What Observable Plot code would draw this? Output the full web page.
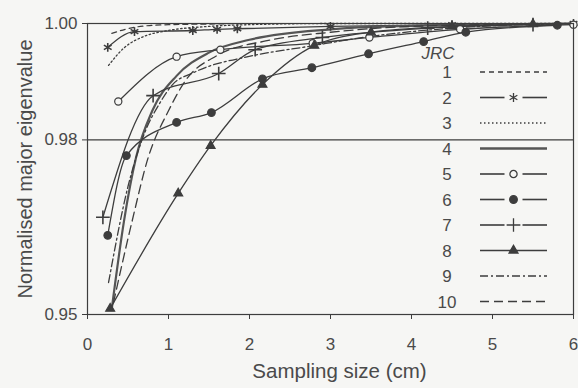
<!DOCTYPE html>
<html><head><meta charset="utf-8">
<script src="https://cdn.jsdelivr.net/npm/d3@7"></script>
<script src="https://cdn.jsdelivr.net/npm/@observablehq/plot@0.6"></script>
<style>
body{margin:0;background:#f6f6f4;}
#chart{width:578px;height:388px;}
</style></head><body><div id="chart"></div>
<script>
// ---- data ----
const jrcLabels = ["1","2","3","4","5","6","7","8","9","10"];
const xTicks = [0, 1, 2, 3, 4, 5, 6];
const yTicks = [0.95, 0.98, 1.00];
const xTitle = "Sampling size (cm)";
const yTitle = "Normalised major eigenvalue";
const legendTitle = "JRC";

const jrc1x = [0.30, 0.60, 1.00, 1.50, 2.00, 3.00, 4.00, 5.00, 6.00];
const jrc1y = [0.9983, 0.9994, 0.9998, 0.9999, 1.0, 1.0, 1.0, 1.0, 1.0];
const jrc2x = [0.25, 0.58, 1.30, 1.60, 1.85, 3.00, 4.50, 6.00];
const jrc2y = [0.9959, 0.9986, 0.9988, 0.9990, 0.9991, 0.9995, 0.9998, 1.0];
const jrc3x = [0.26, 0.45, 0.70, 1.00, 1.50, 2.00, 3.00, 4.00, 6.00];
const jrc3y = [0.9928, 0.9958, 0.9978, 0.9988, 0.9995, 0.9998, 1.0, 1.0, 1.0];
const jrc4x = [0.30, 0.45, 0.60, 0.80, 1.10, 1.50, 2.00, 3.00, 4.00, 6.00];
const jrc4y = [0.951, 0.966, 0.977, 0.985, 0.991, 0.9950, 0.9972, 0.9990, 0.9996, 1.0];
const jrc5x = [0.38, 1.10, 1.64, 2.78, 3.48, 4.60, 6.00];
const jrc5y = [0.9866, 0.9943, 0.9955, 0.9966, 0.9976, 0.9990, 0.9998];
const jrc6x = [0.25, 0.48, 1.10, 1.53, 2.16, 2.77, 3.47, 4.15, 4.67, 5.80];
const jrc6y = [0.9636, 0.9773, 0.9830, 0.9847, 0.9905, 0.9924, 0.9948, 0.9969, 0.9985, 0.9997];
const jrc7x = [0.19, 0.81, 1.62, 2.07, 2.90, 4.20, 5.50];
const jrc7y = [0.9667, 0.9876, 0.9914, 0.9955, 0.9976, 0.9992, 0.9998];
const jrc8x = [0.28, 1.12, 1.52, 2.16, 2.80, 3.50, 4.50, 5.50];
const jrc8y = [0.951, 0.9708, 0.9790, 0.9895, 0.9962, 0.9985, 0.9995, 0.9999];
const jrc9x = [0.26, 0.50, 0.70, 0.90, 1.05, 1.30, 2.05, 2.70, 3.50, 4.50, 6.00];
const jrc9y = [0.9555, 0.9720, 0.9810, 0.9865, 0.9895, 0.9915, 0.9945, 0.9960, 0.9978, 0.9992, 1.0];
const jrc10x = [0.32, 0.55, 0.75, 1.00, 1.20, 1.60, 2.20, 3.00, 4.00, 6.00];
const jrc10y = [0.952, 0.966, 0.977, 0.985, 0.990, 0.9945, 0.9970, 0.9985, 0.9995, 1.0];

// ---- styles ----
const ink = "#3d3d3d";
const paper = "#f6f6f4";
const styleOf = {
  "1":  {dash: "5,4",       w: 1.2, sym: null},
  "2":  {dash: null,        w: 1.3, sym: "asterisk", fill: "none", r: 4.2},
  "3":  {dash: "1.5,2.5",   w: 1.3, sym: null},
  "4":  {dash: null,        w: 2.2, sym: null, color: "#555"},
  "5":  {dash: null,        w: 1.3, sym: "circle", fill: paper, r: 3.6},
  "6":  {dash: null,        w: 1.3, sym: "circle", fill: ink, r: 3.8},
  "7":  {dash: null,        w: 1.3, sym: "plus", fill: "none", r: 4.5},
  "8":  {dash: null,        w: 1.3, sym: "triangle", fill: ink, r: 3.3},
  "9":  {dash: "8,3,2,3",   w: 1.3, sym: null},
  "10": {dash: "9,5",       w: 1.3, sym: null}
};

const xsAll = [jrc1x,jrc2x,jrc3x,jrc4x,jrc5x,jrc6x,jrc7x,jrc8x,jrc9x,jrc10x];
const ysAll = [jrc1y,jrc2y,jrc3y,jrc4y,jrc5y,jrc6y,jrc7y,jrc8y,jrc9y,jrc10y];
const rows = jrcLabels.flatMap((k, i) => xsAll[i].map((x, j) => ({jrc: k, x, y: ysAll[i][j]})));

const marks = [
  Plot.ruleY([0.98], {stroke: ink, strokeWidth: 1.2}),
];
jrcLabels.forEach(k => {
  const s = styleOf[k];
  const data = rows.filter(d => d.jrc === k);
  marks.push(Plot.line(data, {x: "x", y: "y", curve: "monotone-x", stroke: s.color || ink,
    strokeWidth: s.w, strokeDasharray: s.dash || undefined}));
});
jrcLabels.forEach(k => {
  const s = styleOf[k];
  if (!s.sym) return;
  const data = rows.filter(d => d.jrc === k);
  marks.push(Plot.dot(data, {x: "x", y: "y", symbol: s.sym, r: s.r,
    stroke: ink, strokeWidth: s.sym === "plus" || s.sym === "asterisk" ? 1.6 : 1.2, fill: s.fill}));
});
marks.push(
  Plot.frame({stroke: ink, strokeWidth: 1.2}),
  Plot.axisX({ticks: xTicks, tickSize: 5, tickPadding: 18, fontSize: 17, label: null, tickFormat: d3.format("d"), stroke: ink, fill: "#4a4a4a"}),
  Plot.axisY({ticks: yTicks, tickSize: 5, tickPadding: 5, fontSize: 17, label: null, tickFormat: d3.format(".2f"), stroke: ink, fill: "#4a4a4a"}),
  Plot.text([xTitle], {frameAnchor: "bottom", dx: 9, dy: 63, fontSize: 20.5, fill: "#4a4a4a", text: d => d}),
  Plot.text([yTitle], {frameAnchor: "left", textAnchor: "middle", rotate: -90, dx: -62, fontSize: 20, fill: "#4a4a4a", text: d => d})
);

const chart = Plot.plot({
  width: 578, height: 388,
  marginLeft: 87, marginRight: 5, marginTop: 23, marginBottom: 74,
  style: {background: paper, fontFamily: "'Liberation Sans', Arial, sans-serif", color: ink},
  x: {domain: [0, 6]},
  y: {domain: [0.95, 1.0]},
  marks
});
document.getElementById("chart").appendChild(chart);

// ---- legend drawn inside the plot area ----
const svg = d3.select(chart);
const lg = svg.append("g").attr("font-family", "'Liberation Sans', Arial, sans-serif").attr("fill", "#4a4a4a");
lg.append("text").attr("x", 438).attr("y", 59).attr("font-size", 17).attr("font-style", "italic").text(legendTitle);
jrcLabels.forEach((k, i) => {
  const s = styleOf[k];
  const cy = 72 + i * 25.5;
  lg.append("text").attr("x", 447).attr("y", cy + 6).attr("font-size", 17).text(k);
  const x0 = 480, x1 = 547, xm = (x0 + x1) / 2;
  if (s.sym) {
    const segs = k === "8" ? [[x0, x1]] : [[x0, xm - 9], [xm + 9, x1]];
    segs.forEach(([a, b]) => lg.append("line").attr("x1", a).attr("x2", b).attr("y1", cy).attr("y2", cy)
      .attr("stroke", ink).attr("stroke-width", 1.6));
    const sym = {asterisk: d3.symbolAsterisk, circle: d3.symbolCircle, plus: d3.symbolPlus, triangle: d3.symbolTriangle}[s.sym];
    lg.append("path").attr("transform", `translate(${xm},${cy})`)
      .attr("d", d3.symbol(sym, Math.PI * s.r * s.r)())
      .attr("fill", s.fill).attr("stroke", ink).attr("stroke-width", 1.3);
  } else {
    lg.append("line").attr("x1", x0).attr("x2", x1).attr("y1", cy).attr("y2", cy)
      .attr("stroke", s.color || ink).attr("stroke-width", s.w + 0.3)
      .attr("stroke-dasharray", s.dash || null);
  }
});
</script></body></html>
